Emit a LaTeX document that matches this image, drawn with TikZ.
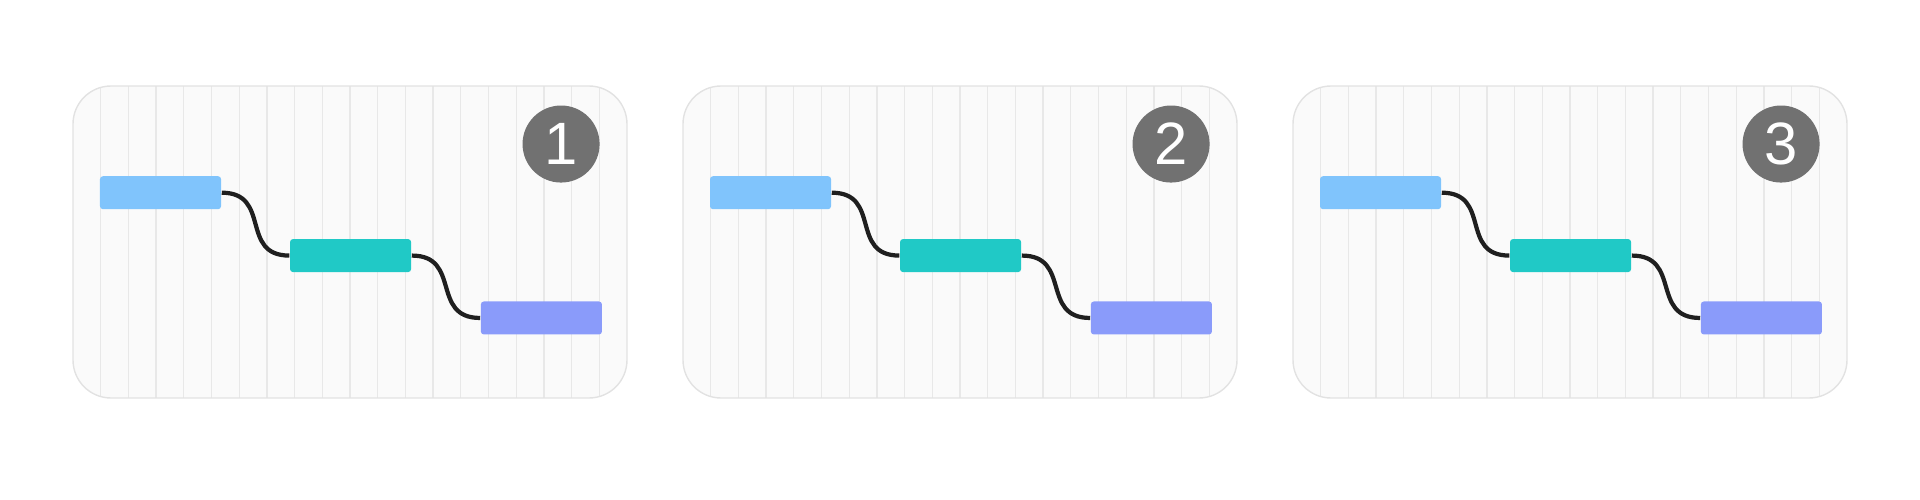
\documentclass[tikz,border=0pt]{standalone}
\usepackage{fontspec}
\setsansfont{Liberation Sans}
\definecolor{barA}{HTML}{80C4FC}
\definecolor{barB}{HTML}{20C9C6}
\definecolor{barC}{HTML}{8A9BFA}
\definecolor{badge}{HTML}{717171}
\definecolor{panelfill}{HTML}{FAFAFA}
\definecolor{panelline}{HTML}{E2E2E2}
\definecolor{gridline}{HTML}{E8E8E8}
\tikzset{
  panel/.style={draw=panelline,line width=0.4pt},
  grid/.style={draw=gridline,line width=0.35pt},
  bar/.style={rectangle,rounded corners=0.03cm,minimum width=1.21cm,minimum height=0.33cm,inner sep=0,draw=none},
  link/.style={line width=1.2pt,draw=black!88},
  badgestyle/.style={circle,fill=badge,minimum size=0.77cm,inner sep=0,text=white,font=\sffamily\fontsize{17}{17}\selectfont}
}
\begin{document}
\begin{tikzpicture}[x=0.01cm,y=-0.01cm]
\useasboundingbox (0,0) rectangle (1920,500);
\foreach \i/\L in {0/1,1/2,2/3}{
  \begin{scope}[xshift={\i*610*0.01cm}]
    \fill[panelfill,rounded corners=0.38cm] (73,86) rectangle (627,398);
    \begin{scope}
      \clip[rounded corners=0.38cm] (73,86) rectangle (627,398);
      \foreach \k in {1,...,19}{
        \draw[grid] ({73+\k*27.7},86) -- ({73+\k*27.7},398);
      }
    \end{scope}
    \draw[panel,rounded corners=0.38cm] (73,86) rectangle (627,398);
    \node[bar,fill=barA] (a\L) at ({73+0.158*554},{86+0.342*312}) {};
    \node[bar,fill=barB] (b\L) at ({73+0.501*554},{86+0.5435*312}) {};
    \node[bar,fill=barC] (c\L) at ({73+0.8455*554},{86+0.7435*312}) {};
    \node[badgestyle] (n\L) at ({73+0.881*554},{86+0.186*312}) {\L};
    \draw[link] (a\L.east) .. controls +(50,0) and +(-50,0) .. (b\L.west);
    \draw[link] (b\L.east) .. controls +(50,0) and +(-50,0) .. (c\L.west);
  \end{scope}
}
\end{tikzpicture}
\end{document}
